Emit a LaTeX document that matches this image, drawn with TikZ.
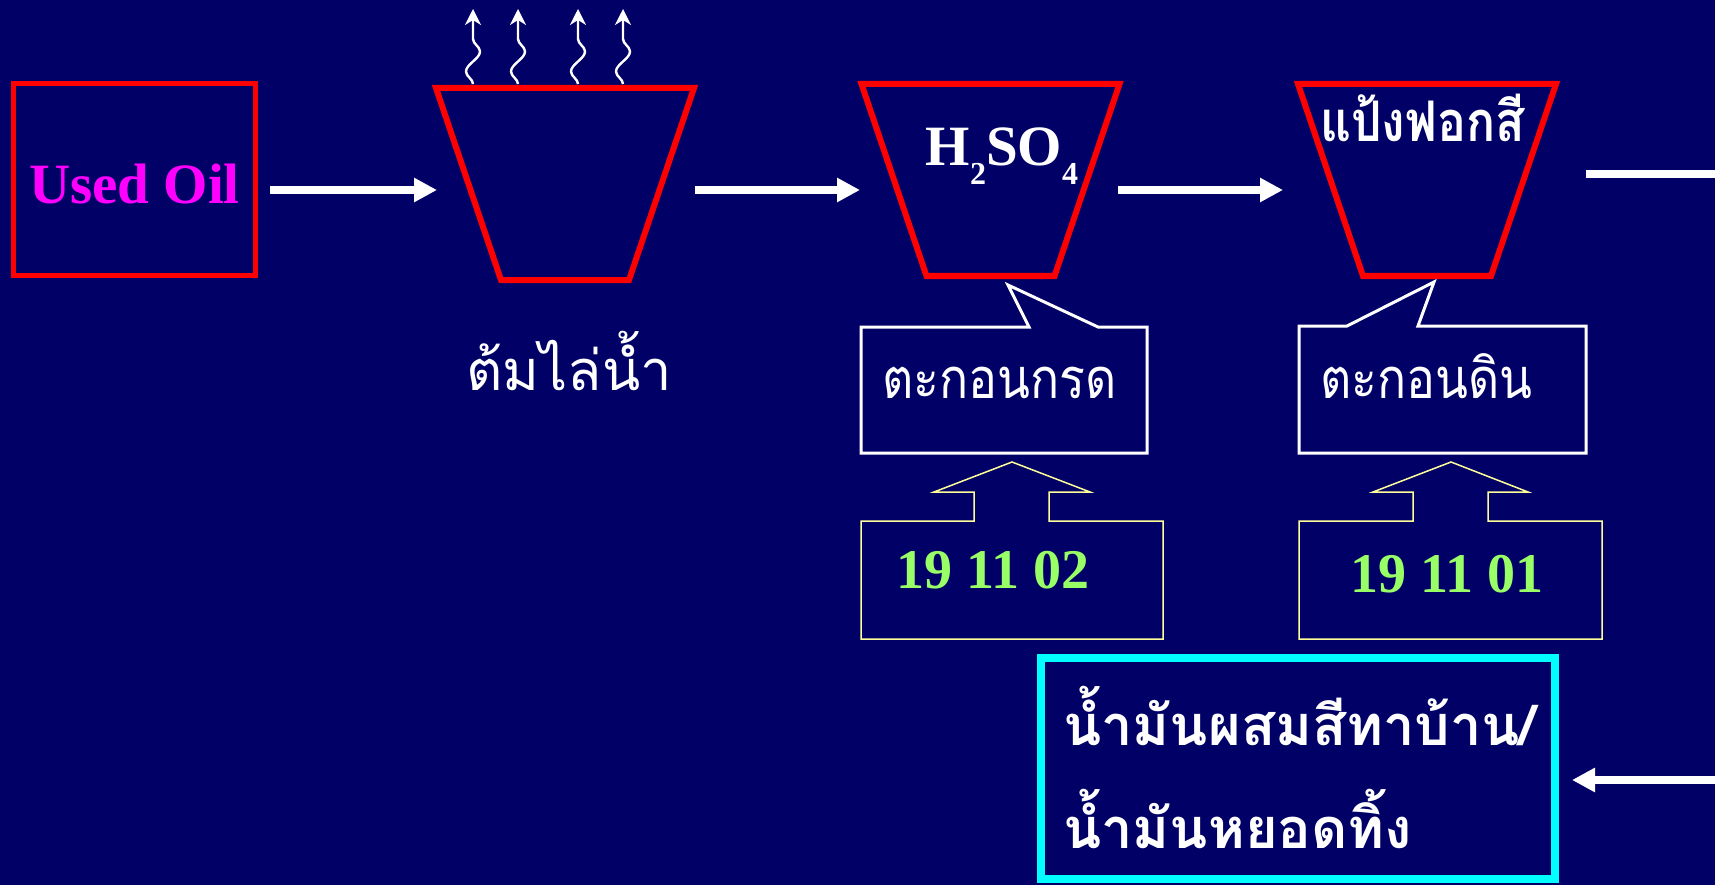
\documentclass[tikz,border=0pt]{standalone}
\usepackage{fontspec}
\setmainfont{Liberation Serif}
\newfontfamily\thaifont[Script=Thai]{Loma}
\newfontfamily\thainarrow[Script=Thai,FakeStretch=0.86]{Loma}
\usepackage{tikz}
\usetikzlibrary{arrows.meta}
\usetikzlibrary{decorations.pathmorphing}
\usepackage{xcolor}
\definecolor{bgnavy}{RGB}{0,0,102}
\definecolor{vatred}{RGB}{255,0,0}
\definecolor{oilpink}{RGB}{255,0,255}
\definecolor{codegreen}{RGB}{153,255,102}
\definecolor{tagyellow}{RGB}{255,255,153}
\definecolor{prodcyan}{RGB}{0,255,255}
\newcommand{\lowsub}[1]{\raisebox{-19pt}{\fontsize{32}{32}\selectfont #1}}

\begin{document}
\begin{tikzpicture}[x=1pt,y=-1pt,
  flow/.style={white,line width=8pt,-{Triangle[length=23pt,width=23pt]}},
  vapour/.style={white,line width=2.4pt,-{Stealth[length=16pt,width=16pt,inset=5pt]},
    decorate,decoration={snake,amplitude=7pt,segment length=40pt,post length=15pt}},
  vessel/.style={draw=vatred,line width=6pt,line join=miter},
  balloon/.style={draw=white,line width=3pt},
  tag/.style={draw=tagyellow,line width=1.5pt},
  thai/.style={text=white,inner sep=0pt,font=\thaifont\fontsize{56}{56}\selectfont},
  mud/.style={thai,font=\thainarrow\fontsize{56}{56}\selectfont},
  thaibold/.style={thai,font=\thaifont\bfseries\fontsize{56}{56}\selectfont},
  code/.style={text=codegreen,inner sep=0pt,font=\bfseries\fontsize{56}{56}\selectfont},
  vat/.pic={\draw[vessel] (-129,-96) -- (129,-96) -- (64,96) -- (-64,96) -- cycle;}]
\useasboundingbox (0,0) rectangle (1715,885);
\fill[bgnavy] (0,0) rectangle (1715,885);

% feed
\node[draw=vatred,line width=5pt,minimum width=242pt,minimum height=192pt,inner sep=0pt,
  text=oilpink,text height=48pt,font=\bfseries\fontsize{57}{57}\selectfont] (oil) at (134.5,179.5) {Used Oil};

% vessels
\pic (boil) at (565,184) {vat};
\pic (acid) at (990.5,180) {vat};
\pic (clay) at (1427,180) {vat};
\foreach \x in {473,518,578,623}
  \draw[vapour] (\x,84) -- (\x,9);
\node[thai,anchor=base] (boillab) at (569,390) {ต้มไล่น้ำ};
\node[text=white,inner sep=0pt,anchor=base,font=\bfseries\fontsize{57}{57}\selectfont] (acidlab) at (1002,166)
  {H\lowsub{2}SO\lowsub{4}};
\node[thaibold,font=\thainarrow\bfseries\fontsize{56}{56}\selectfont,anchor=base west] (claylab) at (1320,142) {แป้งฟอกสี};

% flow arrows
\coordinate (oilout) at (270,190);
\coordinate (boilin) at (437,190);
\coordinate (boilout) at (695,190);
\coordinate (acidin) at (860,190);
\coordinate (acidout) at (1118,190);
\coordinate (clayin) at (1283,190);
\coordinate (clayout) at (1586,174);
\coordinate (edgetop) at (1715,174);
\coordinate (edgebot) at (1715,780);
\coordinate (prodin) at (1572,780);
\draw[flow] (oilout) -- (boilin);
\draw[flow] (boilout) -- (acidin);
\draw[flow] (acidout) -- (clayin);
\draw[white,line width=8pt] (clayout) -- (edgetop);
\draw[flow] (edgebot) -- (prodin);

% sludge callouts
\draw[balloon] (861,327) -- (1029,327) -- (1008,285) -- (1098,327) -- (1147,327) -- (1147,453) -- (861,453) -- cycle;
\node[mud,anchor=base west] (acidmud) at (882,398) {ตะกอนกรด};
\draw[balloon] (1299,326) -- (1347,326) -- (1434,282) -- (1418,326) -- (1586,326) -- (1586,453) -- (1299,453) -- cycle;
\node[mud,anchor=base west] (claymud) at (1320,398) {ตะกอนดิน};

% waste codes
\draw[tag] (861,521) -- (974,521) -- (974,492) -- (934,492) -- (1012,462) -- (1090,492) -- (1049,492)
  -- (1049,521) -- (1163,521) -- (1163,639) -- (861,639) -- cycle;
\node[code,anchor=base] (acidcode) at (993,588) {19 11 02};
\draw[tag] (1299,521) -- (1413,521) -- (1413,492) -- (1373,492) -- (1451,462) -- (1528,492) -- (1488,492)
  -- (1488,521) -- (1602,521) -- (1602,639) -- (1299,639) -- cycle;
\node[code,anchor=base] (claycode) at (1447,592) {19 11 01};

% product
\node[draw=prodcyan,line width=8pt,minimum width=514pt,minimum height=221pt] (prod) at (1298,768.5) {};
\node[thaibold,anchor=base west] (prodA) at (1063,745) {น้ำมันผสมสีทาบ้าน/};
\node[thaibold,anchor=base west] (prodB) at (1063,848) {น้ำมันหยอดทิ้ง};
\end{tikzpicture}
\end{document}
